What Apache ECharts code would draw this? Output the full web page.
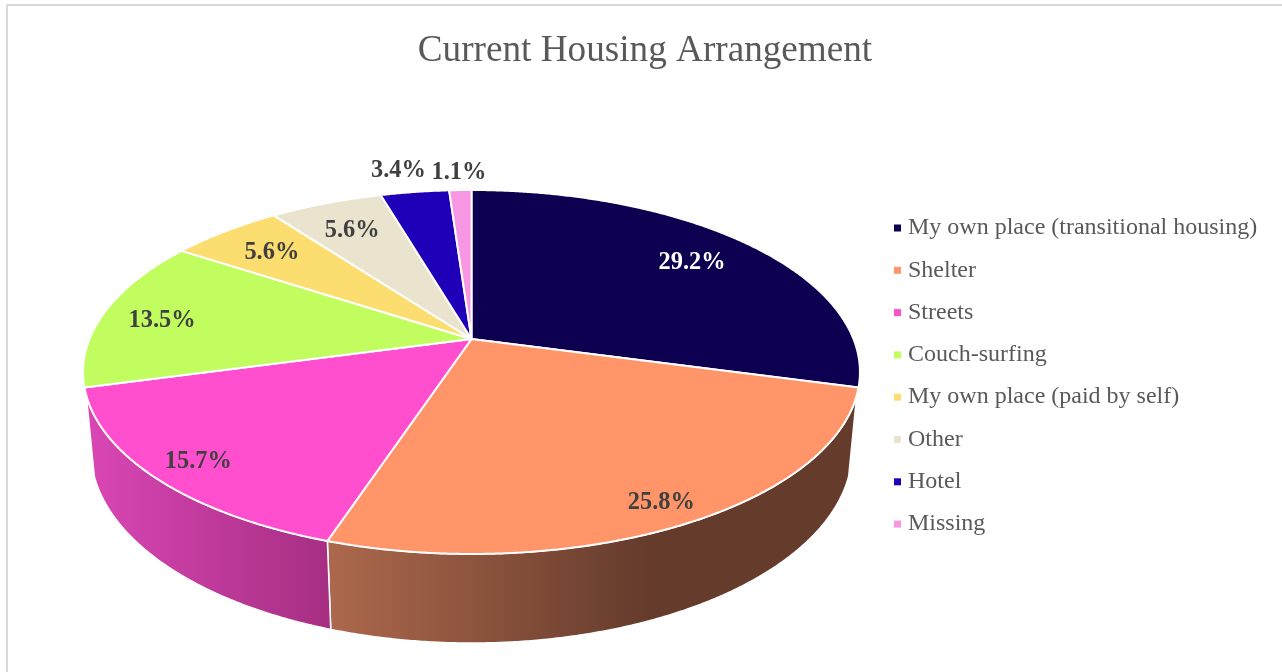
<!DOCTYPE html>
<html>
<head>
<meta charset="utf-8">
<style>html,body{margin:0;padding:0;background:#fff}#c{width:1282px;height:672px}</style>
<script src="https://cdn.jsdelivr.net/npm/echarts@6/dist/echarts.min.js"></script>
</head>
<body>
<div id="c"></div>
<script>
const titleText = 'Current Housing Arrangement';
const categories = ['My own place (transitional housing)', 'Shelter', 'Streets', 'Couch-surfing', 'My own place (paid by self)', 'Other', 'Hotel', 'Missing'];
const percents = [29.2, 25.8, 15.7, 13.5, 5.6, 5.6, 3.4, 1.1];

const colors = ['#0d0050', '#ff9569', '#ff4fcf', '#c2fd5f', '#fcdd6f', '#eae4cf', '#1f00b8', '#f797e3'];
const labelColors = ['#ffffff', '#404040', '#404040', '#404040', '#404040', '#404040', '#404040', '#404040'];
// side-wall gradient per slice: [x from, colour from, x to, colour to]
const sideShades = { 1: [331, '#ac684c', 650, '#653b2c'], 2: [88, '#d946b5', 331, '#a62e82'] };
// label placement as a fraction of the pie radius along each slice's mid-angle [x, y]
const labelPlacement = [[.79, .78], [.898, .902], [.878, .899], [.84, .665], [.792, .783], [.796, .773], [1.356, 1.171], [1.154, 1.14]];

// perspective projection of the pie disc
const P = { cx: 471.5, cy: 339, B: 382, A: 176, k: .1813, m: .02, C: 79, minV: -0.3 };
function project(theta, r, h) {
  const u = Math.sin(theta) * r, v = Math.cos(theta) * r;
  const w = 1 + P.k * v + P.m * h;
  return [P.cx + P.B * u / w, P.cy + (P.C * h - P.A * v) / w];
}
const total = percents.reduce((a, b) => a + b, 0);
const cum = [0];
percents.forEach((p, i) => cum.push(cum[i] + p));
const toAngle = p => p / total * Math.PI * 2;

function renderSlice(index) {
  return function (params, api) {
    const value = api.value(0);
    const start = toAngle(cum[index]);
    const end = start + toAngle(value);
    const n = Math.max(4, Math.ceil((end - start) / 0.006));
    const top = [project(0, 0, 0)];
    const sideTop = [], sideBot = [];
    for (let i = 0; i <= n; i++) {
      const t = start + (end - start) * i / n;
      top.push(project(t, 1, 0));
      if (Math.cos(t) < P.minV) {
        sideTop.push(project(t, 1, 0));
        sideBot.unshift(project(t, 1, 1));
      }
    }
    const children = [];
    if (sideTop.length > 1 && sideShades[index]) {
      const s = sideShades[index];
      children.push({
        type: 'polygon', z2: 1,
        shape: { points: sideTop.concat(sideBot) },
        style: {
          fill: new echarts.graphic.LinearGradient(s[0], 0, s[2], 0, [{ offset: 0, color: s[1] }, { offset: 1, color: s[3] }], true),
          stroke: '#ffffff', lineWidth: 1.5, lineJoin: 'round'
        }
      });
    }
    children.push({
      type: 'polygon', z2: 2,
      shape: { points: top },
      style: { fill: colors[index], stroke: '#ffffff', lineWidth: 2, lineJoin: 'round' }
    });
    const mid = (start + end) / 2;
    const lp = labelPlacement[index];
    const lx = project(mid, lp[0], 0)[0], ly = project(mid, lp[1], 0)[1];
    children.push({
      type: 'text', z2: 10,
      style: {
        x: lx, y: ly, text: value.toFixed(1) + '%',
        fill: labelColors[index], align: 'center', verticalAlign: 'middle',
        fontFamily: '"Liberation Serif"', fontWeight: 'bold', fontSize: 24.4
      }
    });
    return { type: 'group', children };
  };
}

const chart = echarts.init(document.getElementById('c'), null, { renderer: 'canvas' });
chart.setOption({
  animation: false,
  backgroundColor: '#ffffff',
  title: {
    text: titleText, left: 640, top: 28, textAlign: 'center',
    textStyle: { fontFamily: '"Liberation Serif"', fontSize: 37.2, fontWeight: 'normal', color: '#595959' }
  },
  legend: {
    data: categories, orient: 'vertical', left: 889, top: 210,
    icon: 'rect', itemWidth: 7, itemHeight: 7, itemGap: 16.3,
    textStyle: { fontFamily: '"Liberation Serif"', fontSize: 24, color: '#595959', padding: [0, 0, 0, 2], lineHeight: 26 },
    selectedMode: false
  },
  graphic: [{
    type: 'rect', silent: true, z: -1,
    shape: { x: 7, y: 5, width: 1400, height: 800 },
    style: { fill: 'none', stroke: '#d9d9d9', lineWidth: 2 }
  }],
  series: categories.map((name, i) => ({
    type: 'custom', name, coordinateSystem: 'none', silent: true,
    itemStyle: { color: colors[i] },
    renderItem: renderSlice(i),
    data: [{ name, value: [percents[i]] }]
  }))
});
</script>
</body>
</html>
